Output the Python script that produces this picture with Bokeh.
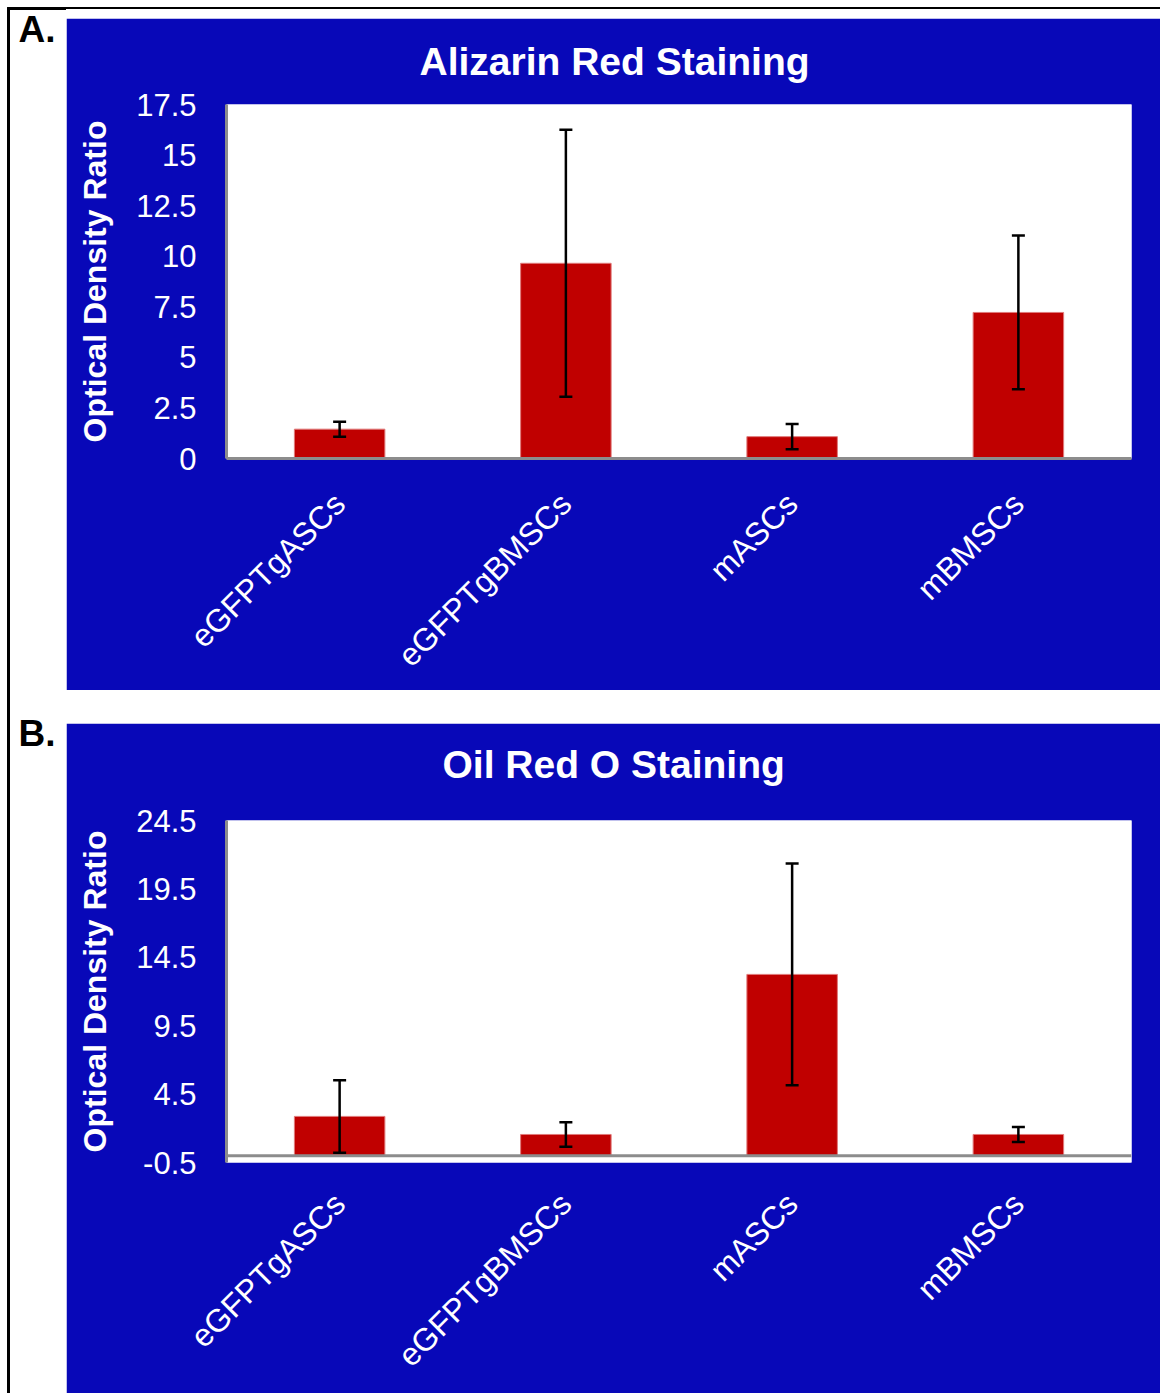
from math import pi
from bokeh.plotting import figure
from bokeh.models import (Range1d, FactorRange, FixedTicker, NumeralTickFormatter,
                          Whisker, TeeHead, ColumnDataSource, Span, Spacer, Div, Title)
from bokeh.layouts import row, column
from bokeh.embed import file_html
from bokeh.resources import INLINE
from bokeh.core.properties import value

categories = ["eGFPTgASCs", "eGFPTgBMSCs", "mASCs", "mBMSCs"]
alizarin_mean = [1.45, 9.65, 1.08, 7.22]
alizarin_err = [0.37, 6.6, 0.62, 3.8]
oilred_mean = [2.87, 1.55, 13.25, 1.55]
oilred_err = [2.65, 0.9, 8.1, 0.55]
alizarin_ticks = [0, 2.5, 5, 7.5, 10, 12.5, 15, 17.5]
oilred_ticks = [-0.5, 4.5, 9.5, 14.5, 19.5, 24.5]
panel_labels = ["A.", "B."]

BLUE = "#0808B8"
RED = "#C00000"
GRAY = "#8C8C8C"
FONT = "Liberation Sans"


def panel(title, means, errs, y0, y1, ticks, width, height, ml, mr, mt, mb,
          title_offset, title_gap, zero_line, xlab_standoff):
    src = ColumnDataSource(dict(
        cat=categories, mean=means,
        upper=[m + e for m, e in zip(means, errs)],
        lower=[m - e for m, e in zip(means, errs)],
    ))
    p = figure(x_range=FactorRange(*categories, range_padding=0),
               y_range=Range1d(y0, y1), width=width, height=height,
               output_backend="svg", toolbar_location=None,
               min_border_left=ml, min_border_right=mr,
               min_border_top=mt, min_border_bottom=mb,
               border_fill_color=BLUE, background_fill_color="white",
               outline_line_color=None)
    p.xgrid.visible = False
    p.ygrid.visible = False

    # gap between plot area and title, then the title itself
    p.add_layout(Title(text=" ", text_font_size="1px", standoff=title_gap), "above")
    p.add_layout(Title(text=title, text_font=FONT, text_font_size="39px",
                       text_font_style="bold", text_color="white",
                       align="left", offset=title_offset, standoff=0), "above")

    p.vbar(x="cat", top="mean", bottom=0, width=0.4, source=src,
           fill_color=RED, line_color="#E07A7A", line_width=1)
    if zero_line:
        p.add_layout(Span(location=0, dimension="width", line_color=GRAY,
                          line_width=3))
    w = Whisker(base="cat", upper="upper", lower="lower", source=src,
                level="overlay", line_color="black", line_width=2.5,
                upper_head=TeeHead(size=13, line_color="black", line_width=2.5),
                lower_head=TeeHead(size=13, line_color="black", line_width=2.5))
    p.add_layout(w)

    ya = p.yaxis[0]
    ya.ticker = FixedTicker(ticks=ticks)
    ya.formatter = NumeralTickFormatter(format="0.[0]")
    ya.major_label_text_font = FONT
    ya.major_label_text_font_size = "31px"
    ya.major_label_text_color = "white"
    ya.major_tick_line_color = None
    ya.minor_tick_line_color = None
    ya.axis_line_color = GRAY
    ya.axis_line_width = 3
    ya.major_label_standoff = 24
    ya.axis_label = "Optical Density Ratio"
    ya.axis_label_text_font = FONT
    ya.axis_label_text_font_size = "32px"
    ya.axis_label_text_font_style = "bold"
    ya.axis_label_text_color = "white"
    ya.axis_label_standoff = 20

    xa = p.xaxis[0]
    xa.major_label_orientation = pi / 4
    xa.major_label_text_font = FONT
    xa.major_label_text_font_size = "32px"
    xa.major_label_text_color = "white"
    xa.major_tick_line_color = None
    xa.minor_tick_line_color = None
    xa.major_label_standoff = xlab_standoff
    if zero_line:
        xa.axis_line_color = None
    else:
        xa.axis_line_color = GRAY
        xa.axis_line_width = 3
    return p


W_RIGHT = 1094
figA = panel("Alizarin Red Staining", alizarin_mean, alizarin_err, 0, 17.5,
             alizarin_ticks, W_RIGHT, 672, 158, 29, 86, 232, 193, 19, False, 34)
figB = panel("Oil Red O Staining", oilred_mean, oilred_err, -0.5, 24.5,
             oilred_ticks, W_RIGHT, 670, 160, 17, 97, 231, 216, 32, True, 30)

H = 1393
left = figure(width=66, height=H, x_range=Range1d(0, 66), y_range=Range1d(H, 0),
              output_backend="svg", toolbar_location=None, min_border=0,
              x_axis_location=None, y_axis_location=None,
              border_fill_color="white", background_fill_color="white",
              outline_line_color=None)
left.xgrid.visible = False
left.ygrid.visible = False
left.quad(left=[7], right=[9], top=[7], bottom=[H], color="black")
left.quad(left=[7], right=[66], top=[7], bottom=[9], color="black")
left.text(x=[18, 18], y=[29, 733], text=panel_labels, text_font=value(FONT),
          text_font_size="37px", text_font_style="bold", text_color="black",
          text_baseline="middle", text_align="left")

gap1 = Spacer(width=W_RIGHT, height=7)
top_line = Div(text="", width=W_RIGHT, height=2, margin=0,
               styles={"background-color": "black"})
gap2 = Spacer(width=W_RIGHT, height=9)
mid = Spacer(width=W_RIGHT, height=33)

layout = row(left, column(gap1, top_line, gap2, figA, mid, figB))

open("out.html", "w").write(file_html(layout, INLINE))
